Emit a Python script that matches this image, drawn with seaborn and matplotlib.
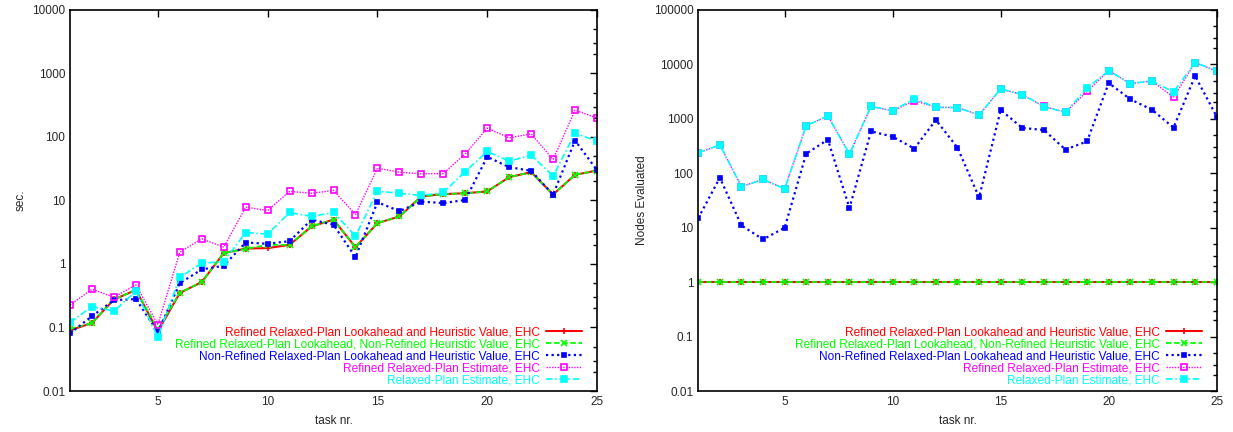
import matplotlib
matplotlib.use("Agg")
import matplotlib.pyplot as plt
import seaborn as sns
from matplotlib.ticker import LogLocator, FixedLocator, FuncFormatter, NullFormatter

# ---------------------------------------------------------------------------
# Datos
# ---------------------------------------------------------------------------
tasks = list(range(1, 26))

labels = [
    'Refined Relaxed-Plan Lookahead and Heuristic Value, EHC',
    'Refined Relaxed-Plan Lookahead, Non-Refined Heuristic Value, EHC',
    'Non-Refined Relaxed-Plan Lookahead and Heuristic Value, EHC',
    'Refined Relaxed-Plan Estimate, EHC',
    'Relaxed-Plan Estimate, EHC',
]
colors = ['#ff0000', '#00ff00', '#0000ff', '#ff00ff', '#00ffff']

# tiempo (sec.)
time_refined = [0.09, 0.118, 0.276, 0.39, 0.087, 0.35, 0.52, 1.48, 1.75, 1.78,
                2.0, 3.9, 5.0, 1.84, 4.4, 5.6, 11.6, 12.6, 13.0, 13.9,
                23.3, 27.9, 12.4, 25.4, 29.6]
time_refined_la = [0.095, 0.118, 0.276, 0.39, 0.095, 0.35, 0.52, 1.48, 1.73, 2.0,
                   2.0, 3.9, 5.0, 1.84, 4.4, 5.6, 11.6, 12.6, 13.0, 13.9,
                   23.3, 27.9, 12.4, 25.4, 29.6]
time_nonrefined = [0.081, 0.151, 0.27, 0.28, 0.085, 0.50, 0.82, 0.94, 2.18, 2.08,
                   2.29, 5.0, 4.14, 1.28, 9.4, 6.8, 9.6, 9.1, 10.2, 48.7,
                   33.5, 29.3, 12.4, 88, 30]
time_refined_est = [0.227, 0.40, 0.30, 0.47, 0.111, 1.54, 2.49, 1.84, 7.85, 6.96,
                    13.9, 13.0, 14.4, 6.0, 32.3, 27.9, 26.3, 26.6, 54.3, 138,
                    97, 112, 44.3, 265, 198]
time_est = [0.12, 0.214, 0.181, 0.373, 0.0705, 0.62, 1.03, 1.09, 3.13, 2.95,
            6.47, 5.6, 6.47, 2.76, 14.0, 13.0, 12.0, 13.4, 28.6, 59.2,
            41.6, 51.8, 24.2, 115, 86]

# nodos evaluados
nodes_refined = [1] * 25
nodes_refined_la = [1] * 25
nodes_nonrefined = [15, 83, 11, 6.1, 10, 230, 415, 23, 590, 471,
                    284, 953, 296, 36, 1455, 680, 624, 272, 386, 4560,
                    2290, 1475, 689, 6130, 1097]
nodes_refined_est = [239, 331, 57, 77, 52, 750, 1130, 226, 1700, 1395,
                     2160, 1630, 1610, 1180, 3540, 2790, 1690, 1320, 3200, 7680,
                     4430, 4970, 2490, 10800, 7500]
nodes_est = [239, 331, 57, 77, 52, 750, 1130, 226, 1700, 1395,
             2350, 1630, 1610, 1180, 3540, 2790, 1675, 1320, 3690, 7680,
             4430, 4970, 3120, 10800, 7680]

# estilos por serie
estilos = [
    dict(linestyle='-', marker='+', markersize=5, mfc='none', linewidth=1.5),
    dict(linestyle=(0, (3, 1.5)), marker='x', markersize=4, mfc='none', linewidth=1.3),
    dict(linestyle=(0, (1, 1.5)), marker='s', markersize=3.2, linewidth=1.6),
    dict(linestyle=(0, (1, 1)), marker='s', markersize=4.6, mfc='none', linewidth=1.0),
    dict(linestyle=(0, (4, 1.5, 1, 1.5)), marker='s', markersize=4.4, linewidth=1.2),
]

sns.set_style('white')
plt.rcParams['font.family'] = ['Liberation Sans', 'DejaVu Sans']


def dibujar(ax, series, ylim, ylabel):
    for valores, label, color, est in zip(series, labels, colors, estilos):
        sns.lineplot(x=tasks, y=valores, ax=ax, color=color, label=label,
                     markeredgecolor=color, markeredgewidth=1.2, **est)

    ax.set_yscale('log')
    ax.set_xlim(1, 25)
    ax.set_ylim(*ylim)
    ax.xaxis.set_major_locator(FixedLocator([5, 10, 15, 20, 25]))
    ax.yaxis.set_major_locator(LogLocator(base=10, numticks=12))
    ax.yaxis.set_minor_locator(LogLocator(base=10, subs=(2, 3, 5), numticks=12))
    ax.yaxis.set_major_formatter(FuncFormatter(lambda v, p: f'{v:g}'))
    ax.yaxis.set_minor_formatter(NullFormatter())
    ax.tick_params(which='both', direction='in', top=True, right=True,
                   labelsize=8.5, width=1.0, color='black')
    ax.tick_params(which='major', length=5)
    ax.tick_params(which='minor', length=3)
    for s in ax.spines.values():
        s.set_linewidth(1.2)
        s.set_color('black')
    ax.set_xlabel('task nr.', fontsize=8.5, labelpad=5)
    ax.set_ylabel(ylabel, fontsize=8.5)

    ax.legend(loc='lower right', bbox_to_anchor=(0.98, 0.0), frameon=False,
              markerfirst=False, labelcolor='linecolor', fontsize=8.6,
              handlelength=3.0, handletextpad=0.5, labelspacing=0.0,
              borderaxespad=0.0)


fig = plt.figure(figsize=(12.33, 4.32), dpi=100)
ax1 = fig.add_axes([0.0568, 0.0949, 0.4274, 0.882])
ax2 = fig.add_axes([0.5663, 0.0949, 0.4205, 0.882])

dibujar(ax1, [time_refined, time_refined_la, time_nonrefined, time_refined_est, time_est],
        (0.01, 10000), 'sec.')
dibujar(ax2, [nodes_refined, nodes_refined_la, nodes_nonrefined, nodes_refined_est, nodes_est],
        (0.01, 100000), 'Nodes Evaluated')

fig.savefig('out.png', dpi=100)
